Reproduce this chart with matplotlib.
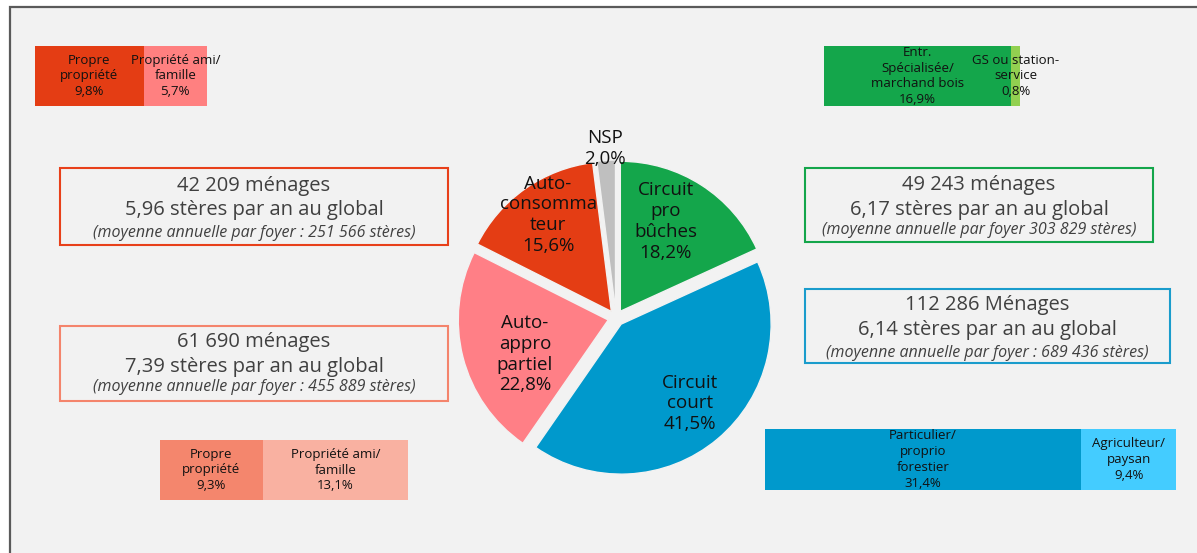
import matplotlib.pyplot as plt
import matplotlib.patches as mpatches
import numpy as np

plt.rcParams['font.family'] = ['Open Sans', 'DejaVu Sans']

W, H = 1197, 553

# pie data
pie_labels = ['Circuit\npro\nbûches', 'Circuit\ncourt', 'Auto-\nappro\npartiel',
              'Auto-\nconsomma\nteur', 'NSP']
pie_values = [18.2, 41.5, 22.8, 15.6, 2.0]
pie_colors = ['#14a64b', '#0099cc', '#ff7f86', '#e43d14', '#bfbfbf']

# stacked bars (top-left, top-right, bottom-left, bottom-right)
bar_tl_labels = ['Propre\npropriété', 'Propriété ami/\nfamille']
bar_tl_values = [9.8, 5.7]
bar_tr_labels = ['Entr.\nSpécialisée/\nmarchand bois', 'GS ou station-\nservice']
bar_tr_values = [16.9, 0.8]
bar_bl_labels = ['Propre\npropriété', 'Propriété ami/\nfamille']
bar_bl_values = [9.3, 13.1]
bar_br_labels = ['Particulier/\nproprio\nforestier', 'Agriculteur/\npaysan']
bar_br_values = [31.4, 9.4]

# text boxes
box_menages = ['42 209 ménages', '61 690 ménages', '49 243 ménages', '112 286 Ménages']
box_steres = ['5,96', '7,39', '6,17', '6,14']
box_moyenne = ['(moyenne annuelle par foyer : 251 566 stères)',
               '(moyenne annuelle par foyer : 455 889 stères)',
               '(moyenne annuelle par foyer 303 829 stères)',
               '(moyenne annuelle par foyer : 689 436 stères)']


def pct(v):
    return f'{v:.1f}'.replace('.', ',') + '%'


fig = plt.figure(figsize=(W / 100, H / 100), dpi=100, facecolor='white')
ax = fig.add_axes([0, 0, 1, 1])
ax.axis('off')

# background panel with its border
ax.add_patch(mpatches.Rectangle((10, -20), W + 20, H - 7 + 20, facecolor='#f2f2f2',
                                edgecolor='#5a5a5a', lw=1.6, zorder=0))

# pie
R = 150
wedges, _ = ax.pie(pie_values, colors=pie_colors, startangle=90, counterclock=False,
                   radius=R, center=(616, H - 318), explode=[8] * 5,
                   wedgeprops=dict(edgecolor='#f2f2f2', linewidth=1))
ax.set_xlim(0, W)
ax.set_ylim(0, H)
ax.set_aspect('equal')

label_dist = [0.67, 0.70, 0.60, 0.77, 1.08]
label_turn = [6, 1, 8, -2, 0]
for w, lab, v, d, t in zip(wedges, pie_labels, pie_values, label_dist, label_turn):
    th = np.deg2rad((w.theta1 + w.theta2) / 2 + t)
    cx, cy = w.center
    ax.text(cx + R * d * np.cos(th), cy + R * d * np.sin(th), lab + '\n' + pct(v),
            ha='center', va='center', fontsize=13.5, color='#111111', linespacing=1.2)

# boxes
boxes = [(60, 168, 448, 245, '#e8401a', [186, 210, 233]),
         (60, 326, 448, 401, '#f4846c', [342, 367, 387]),
         (805, 168, 1153, 242, '#14a64b', [185, 210, 230]),
         (805, 289, 1170, 363, '#1a9ccc', [305, 330, 353])]
for (x0, y0, x1, y1, ec, ly), m, s, moy in zip(boxes, box_menages, box_steres, box_moyenne):
    ax.add_patch(mpatches.Rectangle((x0, H - y1), x1 - x0, y1 - y0, fill=False,
                                    edgecolor=ec, lw=1.5))
    xc = (x0 + x1) / 2
    ax.text(xc, H - ly[0], m, ha='center', va='center', fontsize=14.5, color='#404040')
    ax.text(xc, H - ly[1], s + ' stères par an au global', ha='center', va='center',
            fontsize=14.5, color='#404040')
    ax.text(xc, H - ly[2], moy, ha='center', va='center', fontsize=11.5,
            style='italic', color='#404040')


def stacked(rect, labels, values, colors):
    x0, y0, x1, y1 = rect
    bax = fig.add_axes([x0 / W, 1 - y1 / H, (x1 - x0) / W, (y1 - y0) / H])
    left = 0
    for lab, v, c in zip(labels, values, colors):
        bax.barh([0], [v], left=left, height=1, color=c)
        bax.text(left + v / 2, 0, lab + '\n' + pct(v), ha='center', va='center',
                 fontsize=9.5, color='#111111', linespacing=1.28, clip_on=False)
        left += v
    bax.set_xlim(0, sum(values))
    bax.set_ylim(-0.5, 0.5)
    bax.axis('off')


stacked((35, 46, 207, 106), bar_tl_labels, bar_tl_values, ['#e43d14', '#ff8080'])
stacked((824, 46, 1020, 106), bar_tr_labels, bar_tr_values, ['#14a64b', '#92d050'])
stacked((160, 440, 408, 500), bar_bl_labels, bar_bl_values, ['#f4866d', '#f9b1a1'])
stacked((765, 429, 1176, 490), bar_br_labels, bar_br_values, ['#0099cc', '#44ccff'])

fig.savefig('out.png', dpi=100, facecolor=fig.get_facecolor())
